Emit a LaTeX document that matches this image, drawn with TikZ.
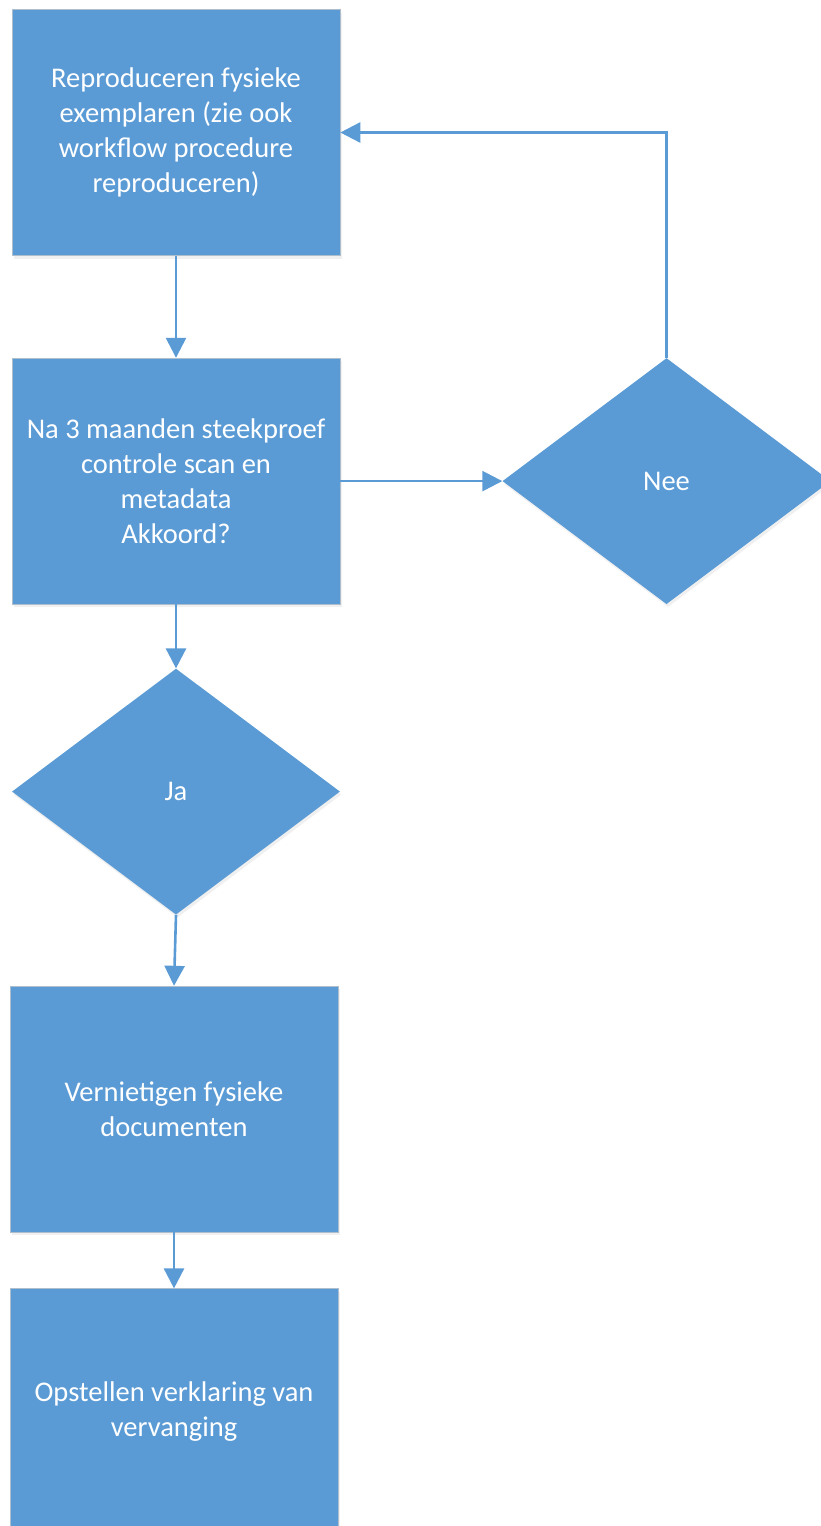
\documentclass[tikz,border=0pt]{standalone}
\usepackage{fontspec}
\setmainfont{Carlito}
\usetikzlibrary{arrows.meta, positioning, shapes.geometric, shadows}
\definecolor{stepblue}{RGB}{91,155,213}
\definecolor{edgegray}{RGB}{175,190,205}

\begin{document}
\begin{tikzpicture}[x=1pt, y=-1pt,
    stepbox/.style={draw=edgegray, line width=0.6pt, fill=stepblue, text=white,
        minimum width=328pt, minimum height=246pt, inner sep=0pt, align=center,
        font=\fontsize{28.5}{35}\selectfont,
        drop shadow={opacity=0.12, shadow xshift=1.5pt, shadow yshift=-3pt}},
    decision/.style={diamond, fill=stepblue, text=white, inner sep=0pt,
        minimum width=328pt, minimum height=246pt, align=center,
        font=\fontsize{28.5}{35}\selectfont,
        drop shadow={opacity=0.12, shadow xshift=1.5pt, shadow yshift=-3pt}},
    flow/.style={draw=stepblue, line width=2.6pt, -{Triangle[length=20pt, width=20pt]}}]

    \useasboundingbox (0,0) rectangle (821,1526);

    % Process steps and decisions
    \node[stepbox] (repro) at (176,132.5) {Reproduceren fysieke\\exemplaren (zie ook\\workflow procedure\\reproduceren)};
    \node[stepbox, below=102pt of repro] (check) {Na 3 maanden steekproef\\controle scan en\\metadata\\Akkoord?};
    \node[decision, right=162pt of check, minimum width=328pt] (nee) {Nee};
    \node[decision, below=64pt of check] (ja) {Ja};
    \node[stepbox, below=71pt of ja, xshift=-2pt] (vernietig) {Vernietigen fysieke\\documenten};
    \node[stepbox, below=56pt of vernietig] (verklaring) {Opstellen verklaring van\\vervanging};

    % Connectors
    \draw[flow] (repro) -- (check);
    \draw[flow] (check) -- (nee);
    \draw[flow] (nee.north) |- (repro.east);
    \draw[flow] (check) -- (ja);
    \draw[flow] (ja.south) -- (vernietig.north);
    \draw[flow] (vernietig) -- (verklaring);
\end{tikzpicture}
\end{document}
